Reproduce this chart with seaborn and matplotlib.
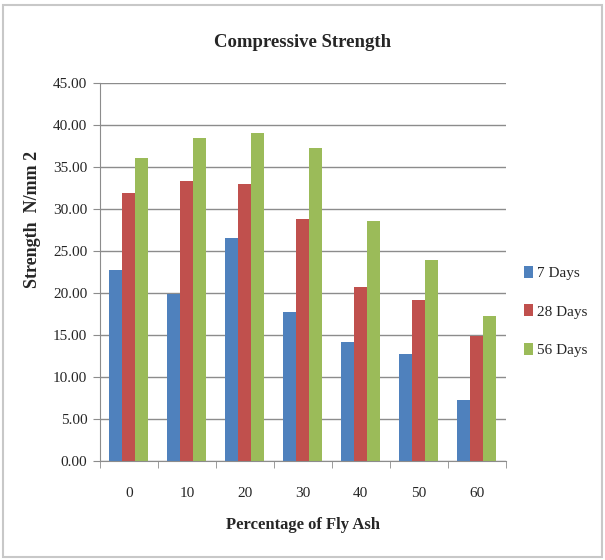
import matplotlib
matplotlib.use("Agg")
import matplotlib.pyplot as plt
import numpy as np
import pandas as pd
import seaborn as sns
from matplotlib.patches import Rectangle

# values
fly_ash = ["0", "10", "20", "30", "40", "50", "60"]
days_7 = [22.7, 19.9, 26.5, 17.7, 14.1, 12.7, 7.3]
days_28 = [31.9, 33.3, 33.0, 28.8, 20.7, 19.1, 14.9]
days_56 = [36.0, 38.4, 39.0, 37.3, 28.5, 23.9, 17.2]
series = ["7 Days", "28 Days", "56 Days"]
colors = ["#4F81BD", "#C0504D", "#9BBB59"]

df = pd.DataFrame({
    "ash": fly_ash * 3,
    "val": days_7 + days_28 + days_56,
    "age": [s for s in series for _ in fly_ash],
})

sns.set_style("white")
plt.rcParams['font.family'] = ['Liberation Serif', 'DejaVu Serif']

fig = plt.figure(figsize=(6.05, 5.6), dpi=100)
ax = fig.add_axes([0.165, 0.177, 0.671, 0.675])

sns.barplot(data=df, x="ash", y="val", hue="age", palette=colors,
            width=0.67, ax=ax, saturation=1, linewidth=0, errorbar=None)

ax.set_ylim(0, 45)
ax.set_yticks(np.arange(0, 45.1, 5))
ax.set_yticklabels(["%.2f" % v for v in np.arange(0, 45.1, 5)])
ax.set_xlim(-0.5, 6.5)
ax.yaxis.grid(True, color="#8c8c8c", linewidth=1)
ax.set_axisbelow(True)
for s in ["top", "right"]:
    ax.spines[s].set_visible(False)
for s in ["left", "bottom"]:
    ax.spines[s].set_color("#8c8c8c")

ax.tick_params(axis="y", length=5, color="#8c8c8c", labelsize=11, pad=4, left=True)
ax.tick_params(axis="x", which="major", length=0, labelsize=11, pad=19)
ax.set_xticks(np.arange(-0.5, 7, 1), minor=True)
ax.tick_params(axis="x", which="minor", length=5, color="#8c8c8c", bottom=True)

ax.set_xlabel("Percentage of Fly Ash", fontsize=12, fontweight="bold", labelpad=12)
ax.set_ylabel("Strength  N/mm 2", fontsize=13, fontweight="bold")
ax.yaxis.set_label_coords(-0.145, 0.638)
ax.set_title("Compressive Strength", fontsize=13.5, fontweight="bold", pad=26)

leg = ax.legend(loc="center left", bbox_to_anchor=(1.01, 0.395), frameon=False,
                fontsize=11, handlelength=0.6, handleheight=0.8,
                handletextpad=0.3, labelspacing=1.6)

fig.patches.append(Rectangle((0.005, 0.006), 0.99, 0.985, transform=fig.transFigure,
                             fill=False, edgecolor="#c8c8c8", linewidth=1.5))

fig.savefig("out.png", dpi=100)
